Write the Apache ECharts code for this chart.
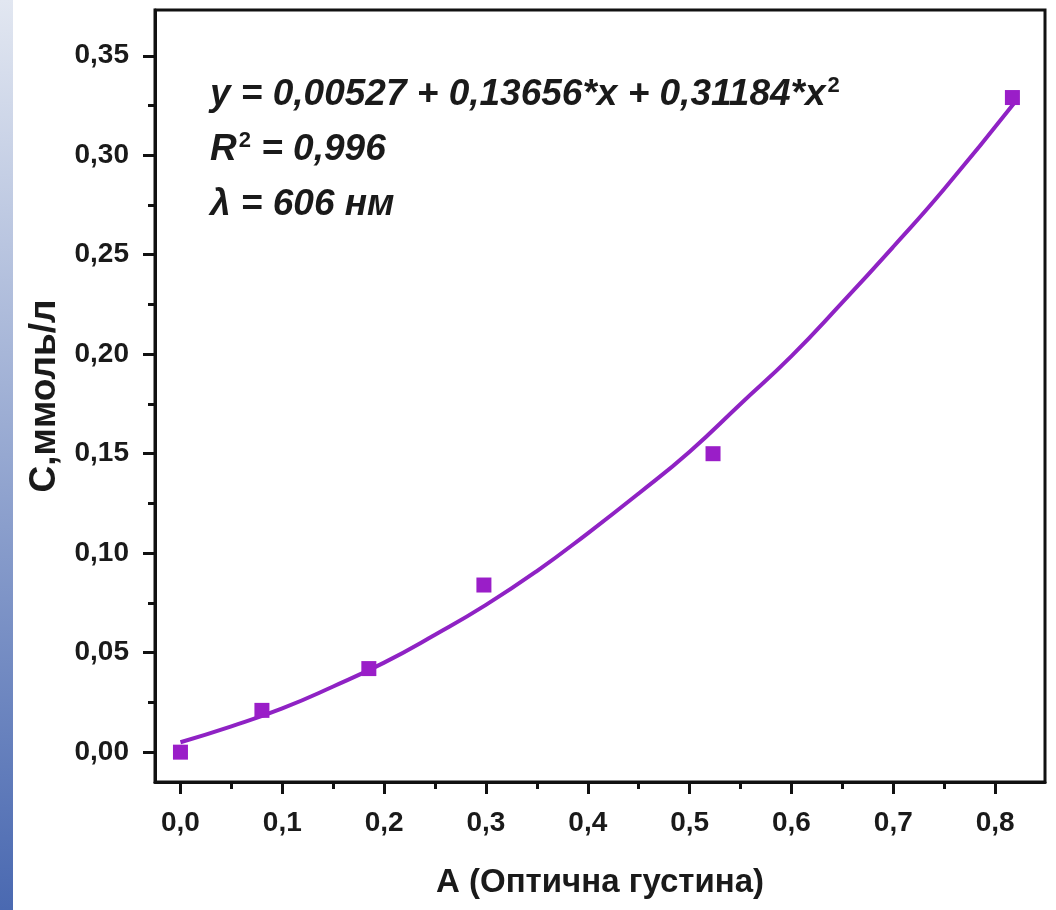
<!DOCTYPE html>
<html>
<head>
<meta charset="utf-8">
<script src="https://cdn.jsdelivr.net/npm/echarts@6/dist/echarts.min.js"></script>
<style>
html, body { margin: 0; padding: 0; background: #fff; }
#chart { width: 1056px; height: 910px; }
</style>
</head>
<body>
<div id="chart"></div>
<script>
// measured points (A, C)
const absorbance = [0, 0.08, 0.185, 0.298, 0.523, 0.817];
const concentration = [0.0, 0.021, 0.042, 0.084, 0.150, 0.329];

// fitted curve
const fitX = [0, 0.05, 0.1, 0.15, 0.2, 0.25, 0.3, 0.35, 0.4, 0.45, 0.5, 0.55, 0.6, 0.65, 0.7, 0.75, 0.82];
const fitY = [0.005, 0.013, 0.022, 0.033, 0.045, 0.059, 0.074, 0.091, 0.110, 0.130, 0.151, 0.175, 0.199, 0.226, 0.254, 0.283, 0.327];

const xTicks = [0, 0.1, 0.2, 0.3, 0.4, 0.5, 0.6, 0.7, 0.8];
const xMinor = [0.05, 0.15, 0.25, 0.35, 0.45, 0.55, 0.65, 0.75];
const yTicks = [0, 0.05, 0.1, 0.15, 0.2, 0.25, 0.3, 0.35];
const yMinor = [0.025, 0.075, 0.125, 0.175, 0.225, 0.275, 0.325];

// annotation lines: [text before superscript, superscript, text after]
const notes = [
  ['y = 0,00527 + 0,13656*x + 0,31184*x', '2', ''],
  ['R', '2', ' = 0,996'],
  ['λ = 606 нм', '', '']
];

const purple = '#9a1ec8';
const font = 'Liberation Sans, Arial, sans-serif';
const ink = '#1a1a1a';

const chart = echarts.init(document.getElementById('chart'));

const comma = (d) => (v) => v.toFixed(d).replace('.', ',');

const baseX = {
  type: 'value', min: -0.025, max: 0.849,
  splitLine: { show: false }
};
const baseY = {
  type: 'value', min: -0.015, max: 0.373,
  splitLine: { show: false }
};

const noteRich = {
  n: { font: 'italic bold 37px ' + font, fill: ink, lineHeight: 40 },
  s: { font: 'bold 22px ' + font, fill: ink, verticalAlign: 'top', lineHeight: 40, padding: [0, 0, 14, 2] }
};

chart.setOption({
  animation: false,
  grid: {
    left: 155, top: 10, right: 11, bottom: 128,
    show: true, borderColor: '#111', borderWidth: 3
  },
  graphic: [
    {
      type: 'rect', left: 0, top: 0, z: -1,
      shape: { width: 13, height: 910 },
      style: {
        fill: new echarts.graphic.LinearGradient(0, 0, 0, 1, [
          { offset: 0, color: '#e2e7f1' },
          { offset: 1, color: '#4a69b1' }
        ])
      }
    },
    ...notes.map((t, i) => ({
      type: 'text', x: 210, y: 95 + i * 55,
      style: {
        text: '{n|' + t[0] + '}' + (t[1] ? '{s|' + t[1] + '}' : '') + (t[2] ? '{n|' + t[2] + '}' : ''),
        rich: noteRich,
        verticalAlign: 'middle'
      }
    }))
  ],
  xAxis: [
    Object.assign({}, baseX, {
      name: 'А (Оптична густина)',
      nameLocation: 'middle', nameGap: 84,
      nameTextStyle: { fontSize: 33, fontWeight: 'bold', color: ink, fontFamily: font },
      axisLine: { onZero: false, lineStyle: { color: '#111', width: 3 } },
      axisTick: { length: 12, lineStyle: { color: '#111', width: 3 }, customValues: xTicks },
      axisLabel: {
        customValues: xTicks, formatter: comma(1), margin: 27,
        fontSize: 28, fontWeight: 'bold', color: ink, fontFamily: font
      }
    }),
    Object.assign({}, baseX, {
      position: 'bottom',
      axisLine: { show: false, onZero: false },
      axisLabel: { show: false },
      axisTick: { length: 7, lineStyle: { color: '#111', width: 3 }, customValues: xMinor }
    })
  ],
  yAxis: [
    Object.assign({}, baseY, {
      name: 'С,ммоль/л',
      nameLocation: 'middle', nameGap: 91, nameRotate: 90,
      nameTextStyle: { fontSize: 37, fontWeight: 'bold', color: ink, fontFamily: font },
      axisLine: { onZero: false, lineStyle: { color: '#111', width: 3 } },
      axisTick: { length: 12, lineStyle: { color: '#111', width: 3 }, customValues: yTicks },
      axisLabel: {
        customValues: yTicks, formatter: comma(2), margin: 26,
        fontSize: 28, fontWeight: 'bold', color: ink, fontFamily: font
      }
    }),
    Object.assign({}, baseY, {
      position: 'left',
      axisLine: { show: false, onZero: false },
      axisLabel: { show: false },
      axisTick: { length: 7, lineStyle: { color: '#111', width: 3 }, customValues: yMinor }
    })
  ],
  series: [
    {
      type: 'line', smooth: true, showSymbol: false,
      data: fitX.map((x, i) => [x, fitY[i]]),
      lineStyle: { color: '#8f22c4', width: 4 },
      z: 2
    },
    {
      type: 'scatter', symbol: 'rect', symbolSize: 15,
      data: absorbance.map((x, i) => [x, concentration[i]]),
      itemStyle: { color: purple, opacity: 1 },
      z: 3
    }
  ]
});
</script>
</body>
</html>
